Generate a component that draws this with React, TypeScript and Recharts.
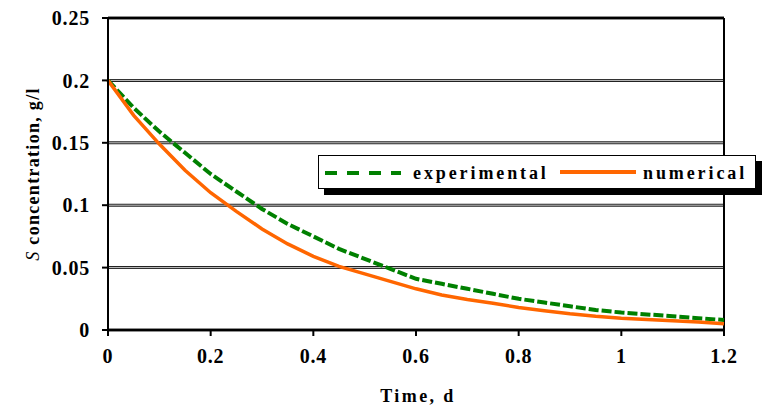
import React from "react";
import {
  LineChart,
  Line,
  XAxis,
  YAxis,
  CartesianGrid,
  ReferenceLine,
  Legend,
} from "recharts";

const timeDays = [
  0, 0.05, 0.1, 0.15, 0.2, 0.25, 0.3, 0.35, 0.4, 0.45, 0.5, 0.55, 0.6, 0.65,
  0.7, 0.75, 0.8, 0.85, 0.9, 0.95, 1.0, 1.05, 1.1, 1.15, 1.2,
];
const experimental = [
  0.2, 0.178, 0.159, 0.142, 0.125, 0.111, 0.097, 0.085, 0.075, 0.065, 0.057,
  0.049, 0.041, 0.037, 0.033, 0.029, 0.025, 0.022, 0.019, 0.016, 0.014,
  0.0125, 0.011, 0.0095, 0.008,
];
const numerical = [
  0.2, 0.172, 0.149, 0.128, 0.11, 0.095, 0.081, 0.069, 0.059, 0.051, 0.045,
  0.039, 0.033, 0.028, 0.0245, 0.0215, 0.018, 0.0155, 0.013, 0.011, 0.0095,
  0.0085, 0.0075, 0.0065, 0.005,
];
const xTicks = [0, 0.2, 0.4, 0.6, 0.8, 1, 1.2];
const yTicks = [0, 0.05, 0.1, 0.15, 0.2, 0.25];

const data = timeDays.map((t, i) => ({
  t,
  experimental: experimental[i],
  numerical: numerical[i],
}));

const FONT = "Liberation Serif, DejaVu Serif, serif";
const GREEN = "#008000";
const ORANGE = "#ff6600";

const tickStyle = {
  fill: "#000",
  fontSize: 20,
  fontWeight: 700,
  fontFamily: FONT,
  letterSpacing: 0.8,
};

function LegendBox() {
  return (
    <svg width={446} height={42} style={{ display: "block" }}>
      <rect x={6} y={6} width={438} height={34} fill="#000" />
      <rect x={0.5} y={0.5} width={437} height={33} fill="#fff" stroke="#000" />
      <line
        x1={7}
        x2={83}
        y1={18}
        y2={18}
        stroke={GREEN}
        strokeWidth={4}
        strokeDasharray="12 10"
      />
      <text
        x={95}
        y={24}
        fontFamily={FONT}
        fontWeight={700}
        fontSize={18}
        letterSpacing={2.9}
      >
        experimental
      </text>
      <line x1={242} x2={318} y1={17} y2={17} stroke={ORANGE} strokeWidth={4} />
      <text
        x={325}
        y={24}
        fontFamily={FONT}
        fontWeight={700}
        fontSize={18}
        letterSpacing={2.9}
      >
        numerical
      </text>
    </svg>
  );
}

function YLabel() {
  return (
    <text
      transform="translate(39,174) rotate(-90)"
      textAnchor="middle"
      fontFamily={FONT}
      fontSize={18}
      letterSpacing={1.3}
      fill="#000"
    >
      <tspan fontStyle="italic">S</tspan>
      <tspan fontWeight={700}> concentration, g/l</tspan>
    </text>
  );
}

export default function App() {
  return (
    <div style={{ position: "absolute", left: 0, top: 0, width: 764, height: 410 }}>
      <LineChart
        width={764}
        height={410}
        data={data}
        margin={{ top: 18, right: 40, bottom: 0, left: 0 }}
      >
        <CartesianGrid vertical={false} stroke="#222" strokeWidth={3} />
        <CartesianGrid vertical={false} stroke="#c8c8c8" strokeWidth={1} />
        <XAxis
          dataKey="t"
          type="number"
          domain={[0, 1.2]}
          ticks={xTicks}
          tick={tickStyle}
          tickSize={6}
          tickMargin={13}
          height={80}
          stroke="#000"
          strokeWidth={2}
          label={{
            value: "Time, d",
            position: "insideBottom",
            offset: 8,
            dx: 2,
            style: {
              fontFamily: FONT,
              fontWeight: 700,
              fontSize: 18,
              letterSpacing: 2.4,
              fill: "#000",
            },
          }}
        />
        <YAxis
          type="number"
          domain={[0, 0.25]}
          ticks={yTicks}
          tick={tickStyle}
          tickSize={6}
          tickMargin={12}
          width={108}
          stroke="#000"
          strokeWidth={2}
          label={<YLabel />}
        />
        <ReferenceLine x={1.2} stroke="#000" strokeWidth={2} />
        <ReferenceLine y={0.25} stroke="#000" strokeWidth={2} />
        <Line
          dataKey="experimental"
          stroke={GREEN}
          strokeWidth={4}
          strokeDasharray="10 3"
          dot={false}
          type="linear"
          isAnimationActive={false}
        />
        <Line
          dataKey="numerical"
          stroke={ORANGE}
          strokeWidth={3.5}
          dot={false}
          type="linear"
          isAnimationActive={false}
        />
        <Legend
          content={<LegendBox />}
          layout="horizontal"
          verticalAlign="middle"
          align="center"
          wrapperStyle={{ left: 318, top: 155, width: 446, height: 42 }}
        />
      </LineChart>
    </div>
  );
}
